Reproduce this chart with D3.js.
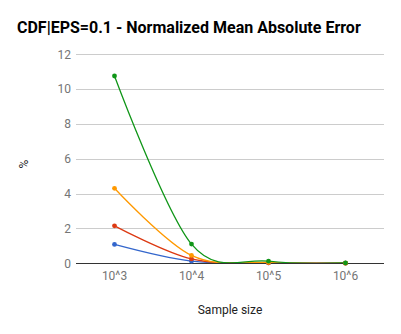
<!DOCTYPE html>
<meta charset="utf-8">
<style>
body { margin: 0; background: #fff; }
text { font-family: Roboto, "Noto Sans", sans-serif; }
.grid line { stroke: #cccccc; stroke-width: 1px; }
.series path { fill: none; stroke-width: 1.3px; }
</style>
<svg width="401" height="334"></svg>
<script src="https://d3js.org/d3.v7.min.js"></script>
<script>

var sampleSizes = ["10^3", "10^4", "10^5", "10^6"];
var yTicks = [0, 2, 4, 6, 8, 10, 12];

// one array per series (values in %)
var blueVals   = [1.08, 0.12, 0.02, 0.005];
var redVals    = [2.15, 0.25, 0.03, 0.01];
var orangeVals = [4.3, 0.45, 0.05, 0.01];
var greenVals  = [10.74, 1.1, 0.12, 0.02];

var series = [
  { color: "#3366cc", values: blueVals },
  { color: "#dc3912", values: redVals },
  { color: "#ff9900", values: orangeVals },
  { color: "#109618", values: greenVals }
];

var svg = d3.select("svg");
var plotLeft = 76, plotRight = 384, plotTop = 54, plotBottom = 263.3;

var x = d3.scaleBand().domain(sampleSizes).range([plotLeft, plotRight]);
var y = d3.scaleLinear().domain([0, 12]).range([plotBottom, plotTop]);

svg.append("text")
    .attr("x", 17)
    .attr("y", 33)
    .style("font-size", "16px")
    .style("font-weight", "bold")
    .attr("fill", "#000")
    .text("CDF|EPS=0.1 - Normalized Mean Absolute Error");

var grid = svg.append("g").attr("class", "grid");
grid.selectAll("line")
    .data(yTicks.filter(function(d) { return d > 0; }))
    .enter().append("line")
      .attr("x1", plotLeft).attr("x2", plotRight)
      .attr("y1", function(d) { return Math.round(y(d)) + 0.5; })
      .attr("y2", function(d) { return Math.round(y(d)) + 0.5; });

svg.append("g").selectAll("text")
    .data(yTicks)
    .enter().append("text")
      .attr("x", 71)
      .attr("y", function(d) { return y(d) + 4.5; })
      .attr("text-anchor", "end")
      .style("font-size", "12px")
      .attr("fill", "#757575")
      .text(function(d) { return d; });

svg.append("g").selectAll("text")
    .data(sampleSizes)
    .enter().append("text")
      .attr("x", function(d) { return x(d) + x.bandwidth() / 2; })
      .attr("y", 280)
      .attr("text-anchor", "middle")
      .style("font-size", "12px")
      .attr("fill", "#757575")
      .text(function(d) { return d; });

// lines are cut at the zero baseline, like the original
svg.append("defs").append("clipPath").attr("id", "plot")
  .append("rect")
    .attr("x", plotLeft).attr("y", plotTop - 10)
    .attr("width", plotRight - plotLeft).attr("height", plotBottom - plotTop + 10.5);

var line = d3.line()
    .x(function(d, i) { return x(sampleSizes[i]) + x.bandwidth() / 2; })
    .y(function(d) { return y(d); })
    .curve(d3.curveCardinal.tension(0));

var g = svg.append("g").attr("class", "series").attr("clip-path", "url(#plot)");
series.forEach(function(s) {
  g.append("path")
      .attr("d", line(s.values))
      .attr("stroke", s.color);
});

svg.append("line")
    .attr("x1", plotLeft).attr("x2", plotRight)
    .attr("y1", Math.round(y(0)) + 0.5).attr("y2", Math.round(y(0)) + 0.5)
    .attr("stroke", "#333")
    .attr("stroke-width", 1);

series.forEach(function(s) {
  svg.append("g").selectAll("circle")
      .data(s.values)
      .enter().append("circle")
        .attr("cx", function(d, i) { return x(sampleSizes[i]) + x.bandwidth() / 2; })
        .attr("cy", function(d) { return y(d); })
        .attr("r", 2.4)
        .attr("fill", s.color);
});

svg.append("text")
    .attr("transform", "translate(28,164) rotate(-90)")
    .attr("text-anchor", "middle")
    .style("font-size", "12px")
    .attr("fill", "#222")
    .text("%");

svg.append("text")
    .attr("x", 230)
    .attr("y", 314)
    .attr("text-anchor", "middle")
    .style("font-size", "12px")
    .attr("fill", "#222")
    .text("Sample size");

</script>
